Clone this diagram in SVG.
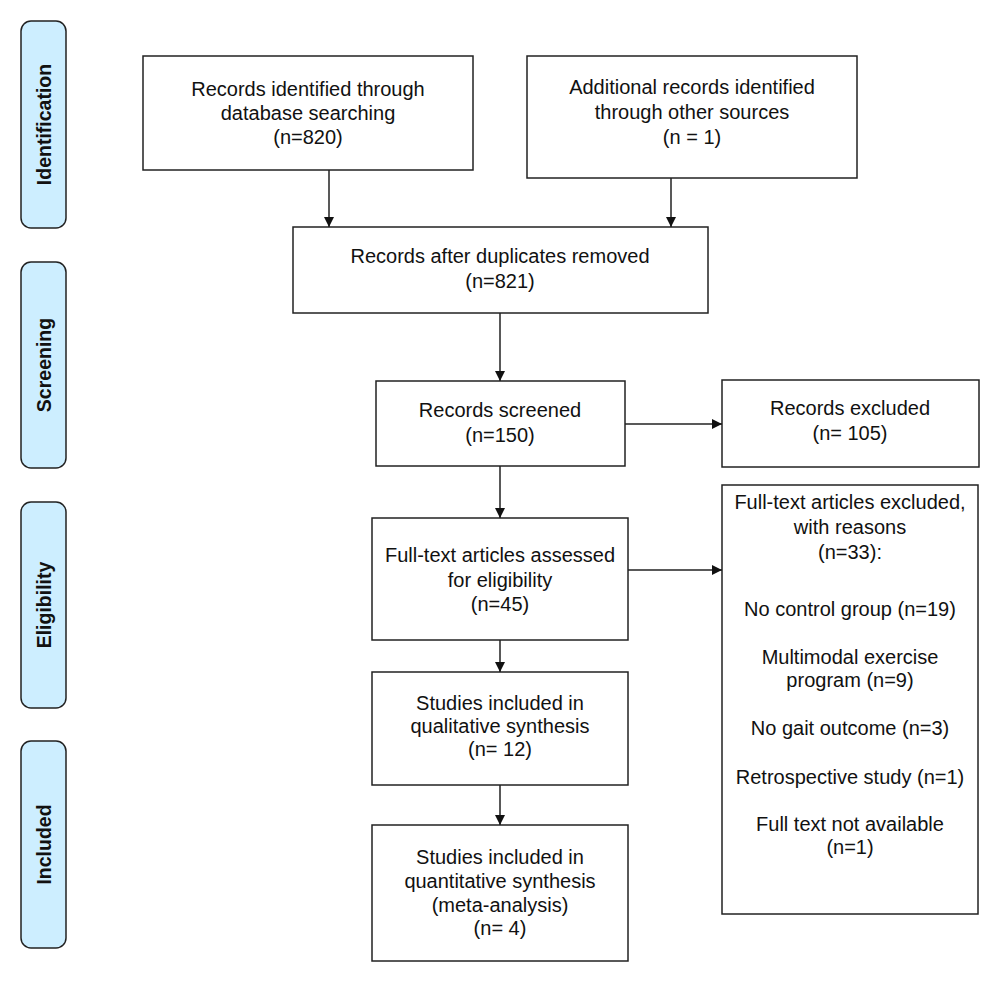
<svg xmlns="http://www.w3.org/2000/svg" width="1000" height="982" viewBox="0 0 1000 982">
<defs>
<style>
.box{fill:#fff;stroke:#222;stroke-width:1.5}
.side{fill:#cdeeff;stroke:#222;stroke-width:1.5}
text{font-family:"Liberation Sans",Arial,Helvetica,sans-serif;font-size:20px;fill:#111;text-anchor:middle}
.sl{font-weight:bold;font-size:19.5px}
.con{stroke:#222;stroke-width:1.5;fill:none;marker-end:url(#arr)}
</style>
<marker id="arr" viewBox="0 0 10 10" refX="10" refY="5" markerWidth="10" markerHeight="10" markerUnits="userSpaceOnUse" orient="auto">
<path d="M0,0 L10,5 L0,10 z" fill="#111"/>
</marker>
</defs>
<rect width="1000" height="982" fill="#fff"/>
<g id="side-identification"><rect class="side" x="21" y="21" width="45" height="207" rx="10"/><text class="sl" transform="translate(51,124.5) rotate(-90)">Identification</text></g>
<g id="side-screening"><rect class="side" x="21" y="262" width="45" height="206" rx="10"/><text class="sl" transform="translate(51,365) rotate(-90)">Screening</text></g>
<g id="side-eligibility"><rect class="side" x="21" y="502" width="45" height="206" rx="10"/><text class="sl" transform="translate(51,605) rotate(-90)">Eligibility</text></g>
<g id="side-included"><rect class="side" x="21" y="741" width="45" height="207" rx="10"/><text class="sl" transform="translate(51,844.5) rotate(-90)">Included</text></g>
<g id="n-database"><rect class="box" x="143" y="56" width="330" height="114"/><text x="308" y="96">Records identified through</text><text x="308" y="120">database searching</text><text x="308" y="144">(n=820)</text></g>
<g id="n-other"><rect class="box" x="527" y="56" width="330" height="122"/><text x="692" y="94">Additional records identified</text><text x="692" y="119">through other sources</text><text x="692" y="144">(n = 1)</text></g>
<g id="n-dupl"><rect class="box" x="293" y="227" width="415" height="86"/><text x="500" y="263">Records after duplicates removed</text><text x="500" y="288">(n=821)</text></g>
<g id="n-screened"><rect class="box" x="376" y="381" width="249" height="85"/><text x="500" y="417">Records screened</text><text x="500" y="442">(n=150)</text></g>
<g id="n-excluded"><rect class="box" x="722" y="380" width="257" height="87"/><text x="850" y="415">Records excluded</text><text x="850" y="440">(n= 105)</text></g>
<g id="n-fulltext"><rect class="box" x="372" y="518" width="256" height="122"/><text x="500" y="562">Full-text articles assessed</text><text x="500" y="587">for eligibility</text><text x="500" y="611">(n=45)</text></g>
<g id="n-ftexcluded"><rect class="box" x="722" y="485" width="256" height="429"/><text x="850" y="509">Full-text articles excluded,</text><text x="850" y="534">with reasons</text><text x="850" y="559">(n=33):</text><text x="850" y="616">No control group (n=19)</text><text x="850" y="664">Multimodal exercise</text><text x="850" y="687">program (n=9)</text><text x="850" y="735">No gait outcome (n=3)</text><text x="850" y="784">Retrospective study (n=1)</text><text x="850" y="831">Full text not available</text><text x="850" y="854">(n=1)</text></g>
<g id="n-qual"><rect class="box" x="372" y="672" width="256" height="113"/><text x="500" y="710">Studies included in</text><text x="500" y="733">qualitative synthesis</text><text x="500" y="756">(n= 12)</text></g>
<g id="n-quant"><rect class="box" x="372" y="825" width="256" height="136"/><text x="500" y="864">Studies included in</text><text x="500" y="888">quantitative synthesis</text><text x="500" y="912">(meta-analysis)</text><text x="500" y="935">(n= 4)</text></g>
<g id="connectors">
<line class="con" x1="329" y1="170" x2="329" y2="227"/>
<line class="con" x1="671" y1="178" x2="671" y2="227"/>
<line class="con" x1="500" y1="313" x2="500" y2="381"/>
<line class="con" x1="625" y1="424" x2="722" y2="424"/>
<line class="con" x1="500" y1="466" x2="500" y2="518"/>
<line class="con" x1="628" y1="570" x2="722" y2="570"/>
<line class="con" x1="500" y1="640" x2="500" y2="672"/>
<line class="con" x1="500" y1="785" x2="500" y2="825"/>
</g>
</svg>
